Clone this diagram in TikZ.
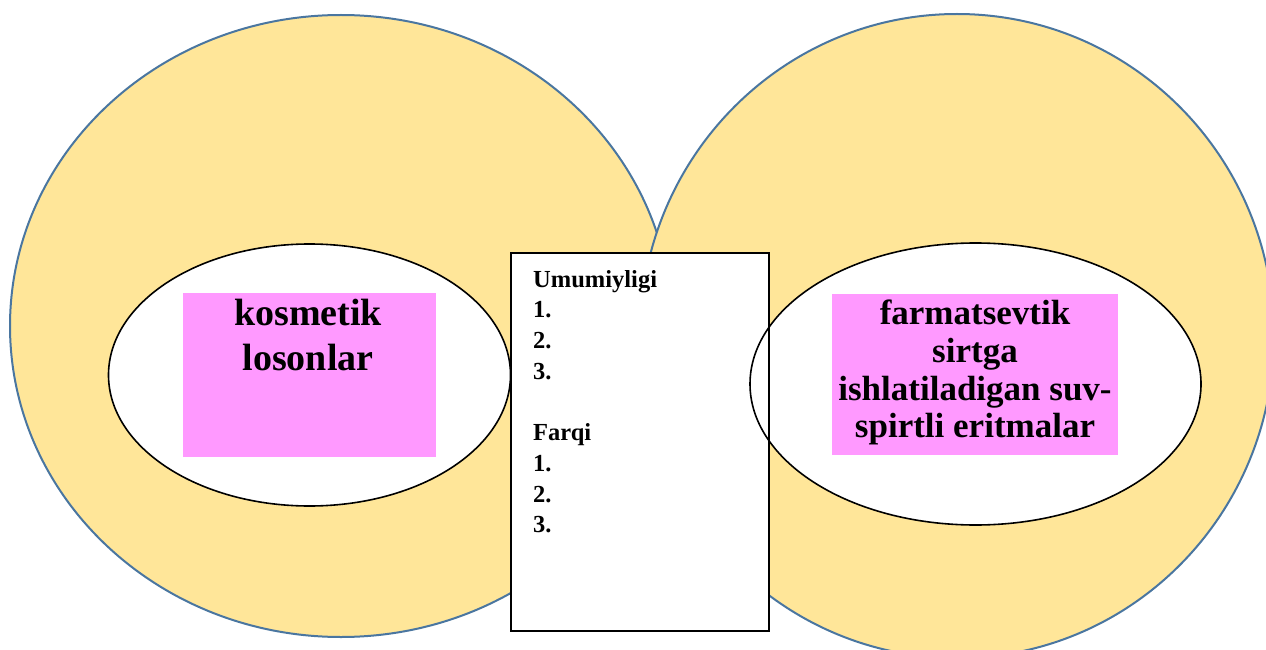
\documentclass[tikz,border=0pt]{standalone}
\usepackage{fontspec}
\setmainfont{Liberation Serif}
\usetikzlibrary{shapes.geometric}
\definecolor{ringfill}{HTML}{FFE699}
\definecolor{ringline}{HTML}{4A76A0}
\definecolor{pinkfill}{HTML}{FF99FF}
\begin{document}
\begin{tikzpicture}[x=1pt,y=-1pt,
  ring/.style={ellipse, draw=ringline, line width=2pt, fill=ringfill, inner sep=0pt},
  core/.style={ellipse, draw=black, line width=1.6pt, fill=white, inner sep=0pt},
  pinkbox/.style={rectangle, fill=pinkfill, inner sep=0pt},
  bigtxt/.style={anchor=base, inner sep=0pt, font=\bfseries\fontsize{38}{45}\selectfont},
  midtxt/.style={anchor=base, inner sep=0pt, font=\bfseries\fontsize{35}{38}\selectfont},
  listtxt/.style={anchor=base west, inner sep=0pt, font=\bfseries\fontsize{24.5}{30}\selectfont},
  listbox/.style={rectangle, fill=white, inner sep=0pt},
  boxline/.style={draw=black, line width=1.6pt}]
\useasboundingbox (0,0) rectangle (1266,650);
% big rings
\node[ring, minimum width=662pt, minimum height=622pt] (ringL) at (341,326) {};
\node[ring, minimum width=634pt, minimum height=644pt] (ringR) at (957,336) {};
% middle list box (fill)
\node[listbox, minimum width=258pt, minimum height=378pt] (list) at (640,442) {};
% inner ellipses
\node[core, minimum width=402pt, minimum height=262pt] (coreL) at (309.5,375) {};
\node[core, minimum width=451pt, minimum height=282pt] (coreR) at (975.5,384) {};
% list box border on top
\draw[boxline] (list.north west) rectangle (list.south east);
% pink boxes
\node[pinkbox, minimum width=253pt, minimum height=164pt] (pinkL) at (309.5,375) {};
\node[pinkbox, minimum width=286pt, minimum height=161pt] (pinkR) at (975,374.5) {};
% left text
\node[bigtxt] (tL1) at (308,325) {kosmetik};
\node[bigtxt] (tL2) at (308,370) {losonlar};
% right text
\node[midtxt] (tR1) at (975,324) {farmatsevtik};
\node[midtxt] (tR2) at (975,362) {sirtga};
\node[midtxt] (tR3) at (975,400) {ishlatiladigan suv-};
\node[midtxt] (tR4) at (975,437) {spirtli eritmalar};
% list text
\node[listtxt] (u0) at (533,287) {Umumiyligi};
\node[listtxt] (u1) at (533,317.7) {1.};
\node[listtxt] (u2) at (533,348.4) {2.};
\node[listtxt] (u3) at (533,379) {3.};
\node[listtxt] (f0) at (533,440.5) {Farqi};
\node[listtxt] (f1) at (533,471) {1.};
\node[listtxt] (f2) at (533,502) {2.};
\node[listtxt] (f3) at (533,532.6) {3.};
\end{tikzpicture}
\end{document}
